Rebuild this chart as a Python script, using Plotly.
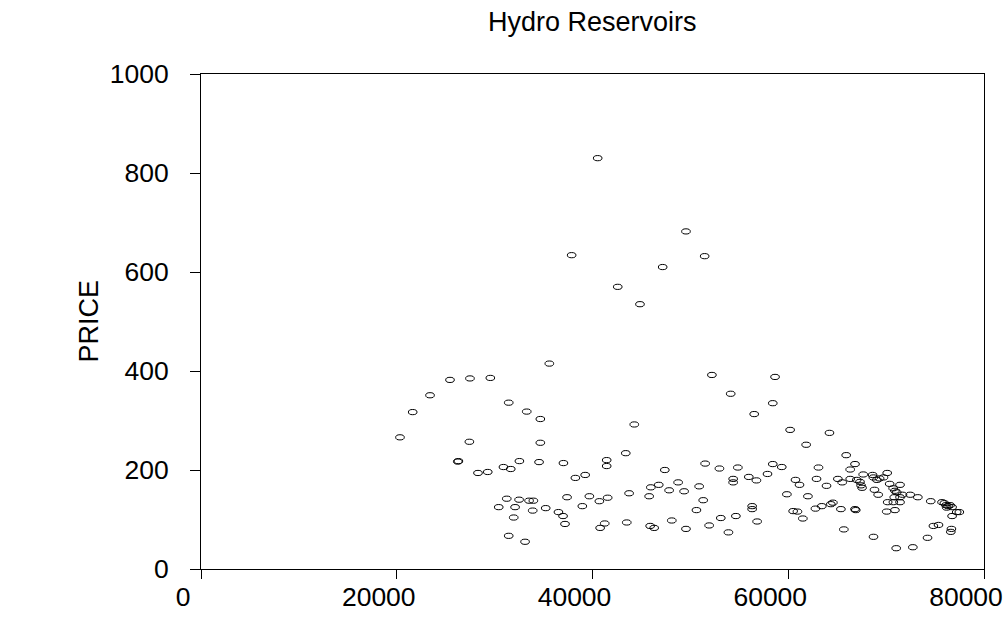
import plotly.graph_objects as go

# Reservoir level (x) against electricity price (y)
reservoir = [
    40530, 49550, 37870, 51460, 47170, 42580, 44850, 35590, 25440, 27480,
    29560, 23400, 21630, 31440, 33280, 34670, 44270, 20330, 27420, 34670,
    52200, 58650,
    54120, 58420, 56520, 60190, 64210, 61830, 65920, 51510, 52970, 54850,
    58420, 59340, 63090, 66330, 54370, 54370, 55970, 56750, 57880, 60740,
    61150, 62890, 63910, 65070, 65510, 50900, 51310, 50620, 51920, 53110,
    54650, 53890, 56310, 56310, 56820, 59860, 62010, 60500, 60940, 61490,
    62780, 63430, 64350, 64560, 65380, 65680, 49550,
    66820, 66330, 66820, 66900, 67000, 67330, 67440, 67540, 67660, 68620,
    68700, 69060, 69330, 68810, 69190, 69730, 70110, 70360, 71420, 70720,
    70900, 71080, 70830, 71420, 70160, 70740, 71420, 70060, 70900, 71670,
    72460, 73240, 71030, 72730, 74230, 68710, 74560, 75710, 75950, 76120,
    76330, 76530, 76190, 76740, 76740, 77210, 77480, 76670, 76610, 74830,
    75350,
    34540, 37030, 43400, 41450, 41450, 38250, 39250, 47390, 45960, 46770,
    48750, 47830, 49360, 45790, 43740, 37400, 39680, 40700, 41550, 38960,
    35220, 33890, 36520, 36990, 37190, 41250, 40780, 43500, 45890, 46300,
    48100,
    26230, 26300, 28300, 29300, 30900, 31650, 32530, 31240, 32500, 33520,
    33960, 30420, 32090, 31950, 31440, 33110,
]
price = [
    830, 682, 634, 632, 610, 570, 535, 415, 382, 385,
    386, 351, 317, 336, 318, 303, 292, 266, 257, 255,
    392, 388,
    354, 335, 313, 281, 275, 251, 230, 213, 203, 205,
    212, 206, 205, 201, 182, 175, 186, 179, 192, 180,
    170, 182, 168, 182, 175, 167, 139, 119, 88, 103,
    107, 74, 127, 121, 96, 151, 147, 117, 116, 102,
    122, 127, 131, 134, 121, 80, 81,
    212, 182, 121, 119, 180, 176, 169, 164, 191, 190,
    185, 180, 183, 160, 150, 185, 194, 172, 170, 163,
    158, 155, 145, 145, 135, 135, 135, 116, 119, 150,
    150, 145, 42, 44, 63, 65, 137, 135, 133, 129,
    127, 129, 124, 125, 107, 115, 115, 81, 75, 87,
    89,
    216, 214, 234, 220, 208, 184, 190, 200, 165, 170,
    175, 159, 157, 147, 153, 145, 147, 137, 144, 127,
    123, 118, 115, 107, 91, 92, 83, 94, 87, 83,
    98,
    217, 218, 194, 196, 206, 202, 218, 142, 140, 138,
    138, 125, 125, 104, 67, 55,
]

x_ticks = [0, 20000, 40000, 60000, 80000]
y_ticks = [0, 200, 400, 600, 800, 1000]

FONT = "Liberation Sans, Arial, sans-serif"
TICK_SIZE = 26.5

fig = go.Figure()

# invisible trace carrying the data for hover; the open ellipses are drawn as shapes
fig.add_trace(go.Scatter(
    x=reservoir, y=price, mode="markers",
    marker=dict(size=8, opacity=0), hoverinfo="x+y", showlegend=False,
))

# open elliptical plotting symbols, anchored at each data point
shapes = []
for xv, yv in zip(reservoir, price):
    shapes.append(dict(
        type="circle", xref="x", yref="y",
        xsizemode="pixel", ysizemode="pixel",
        xanchor=xv, yanchor=yv,
        x0=-4.3, x1=4.3, y0=-2.6, y1=2.6,
        line=dict(color="black", width=1),
        fillcolor="rgba(0,0,0,0)",
    ))

fig.update_layout(
    width=1008, height=618,
    margin=dict(l=201, r=24, t=74, b=49, pad=0, autoexpand=False),
    paper_bgcolor="white", plot_bgcolor="white",
    font=dict(family=FONT, size=TICK_SIZE, color="black"),
    shapes=shapes,
    showlegend=False,
    xaxis=dict(
        range=[0, 80000], tickvals=x_ticks, ticktext=[str(v) for v in x_ticks],
        showgrid=False, zeroline=False, automargin=False,
        showline=True, linecolor="black", linewidth=1, mirror=True,
        ticks="outside", ticklen=9, tickcolor="black", tickwidth=1,
        tickfont=dict(family=FONT, size=TICK_SIZE),
        ticklabeloverflow="allow", ticklabelstandoff=-5, ticklabelshift=-18,
    ),
    yaxis=dict(
        range=[0, 1000], tickvals=y_ticks, ticktext=[str(v) for v in y_ticks],
        showgrid=False, zeroline=False, automargin=False,
        showline=True, linecolor="black", linewidth=1, mirror=True,
        ticks="outside", ticklen=10, tickcolor="black", tickwidth=1,
        tickfont=dict(family=FONT, size=TICK_SIZE),
        ticklabelstandoff=16, ticklabeloverflow="allow",
    ),
    annotations=[
        dict(text="Hydro Reservoirs", xref="paper", yref="paper",
             x=0.5, y=1, yshift=52, xanchor="center", yanchor="middle",
             showarrow=False, font=dict(family=FONT, size=27)),
        dict(text="PRICE", xref="paper", yref="paper",
             x=0, xshift=-113, y=0.5, xanchor="center", yanchor="middle",
             textangle=-90, showarrow=False, font=dict(family=FONT, size=27)),
    ],
)

fig.write_html("out.html")
